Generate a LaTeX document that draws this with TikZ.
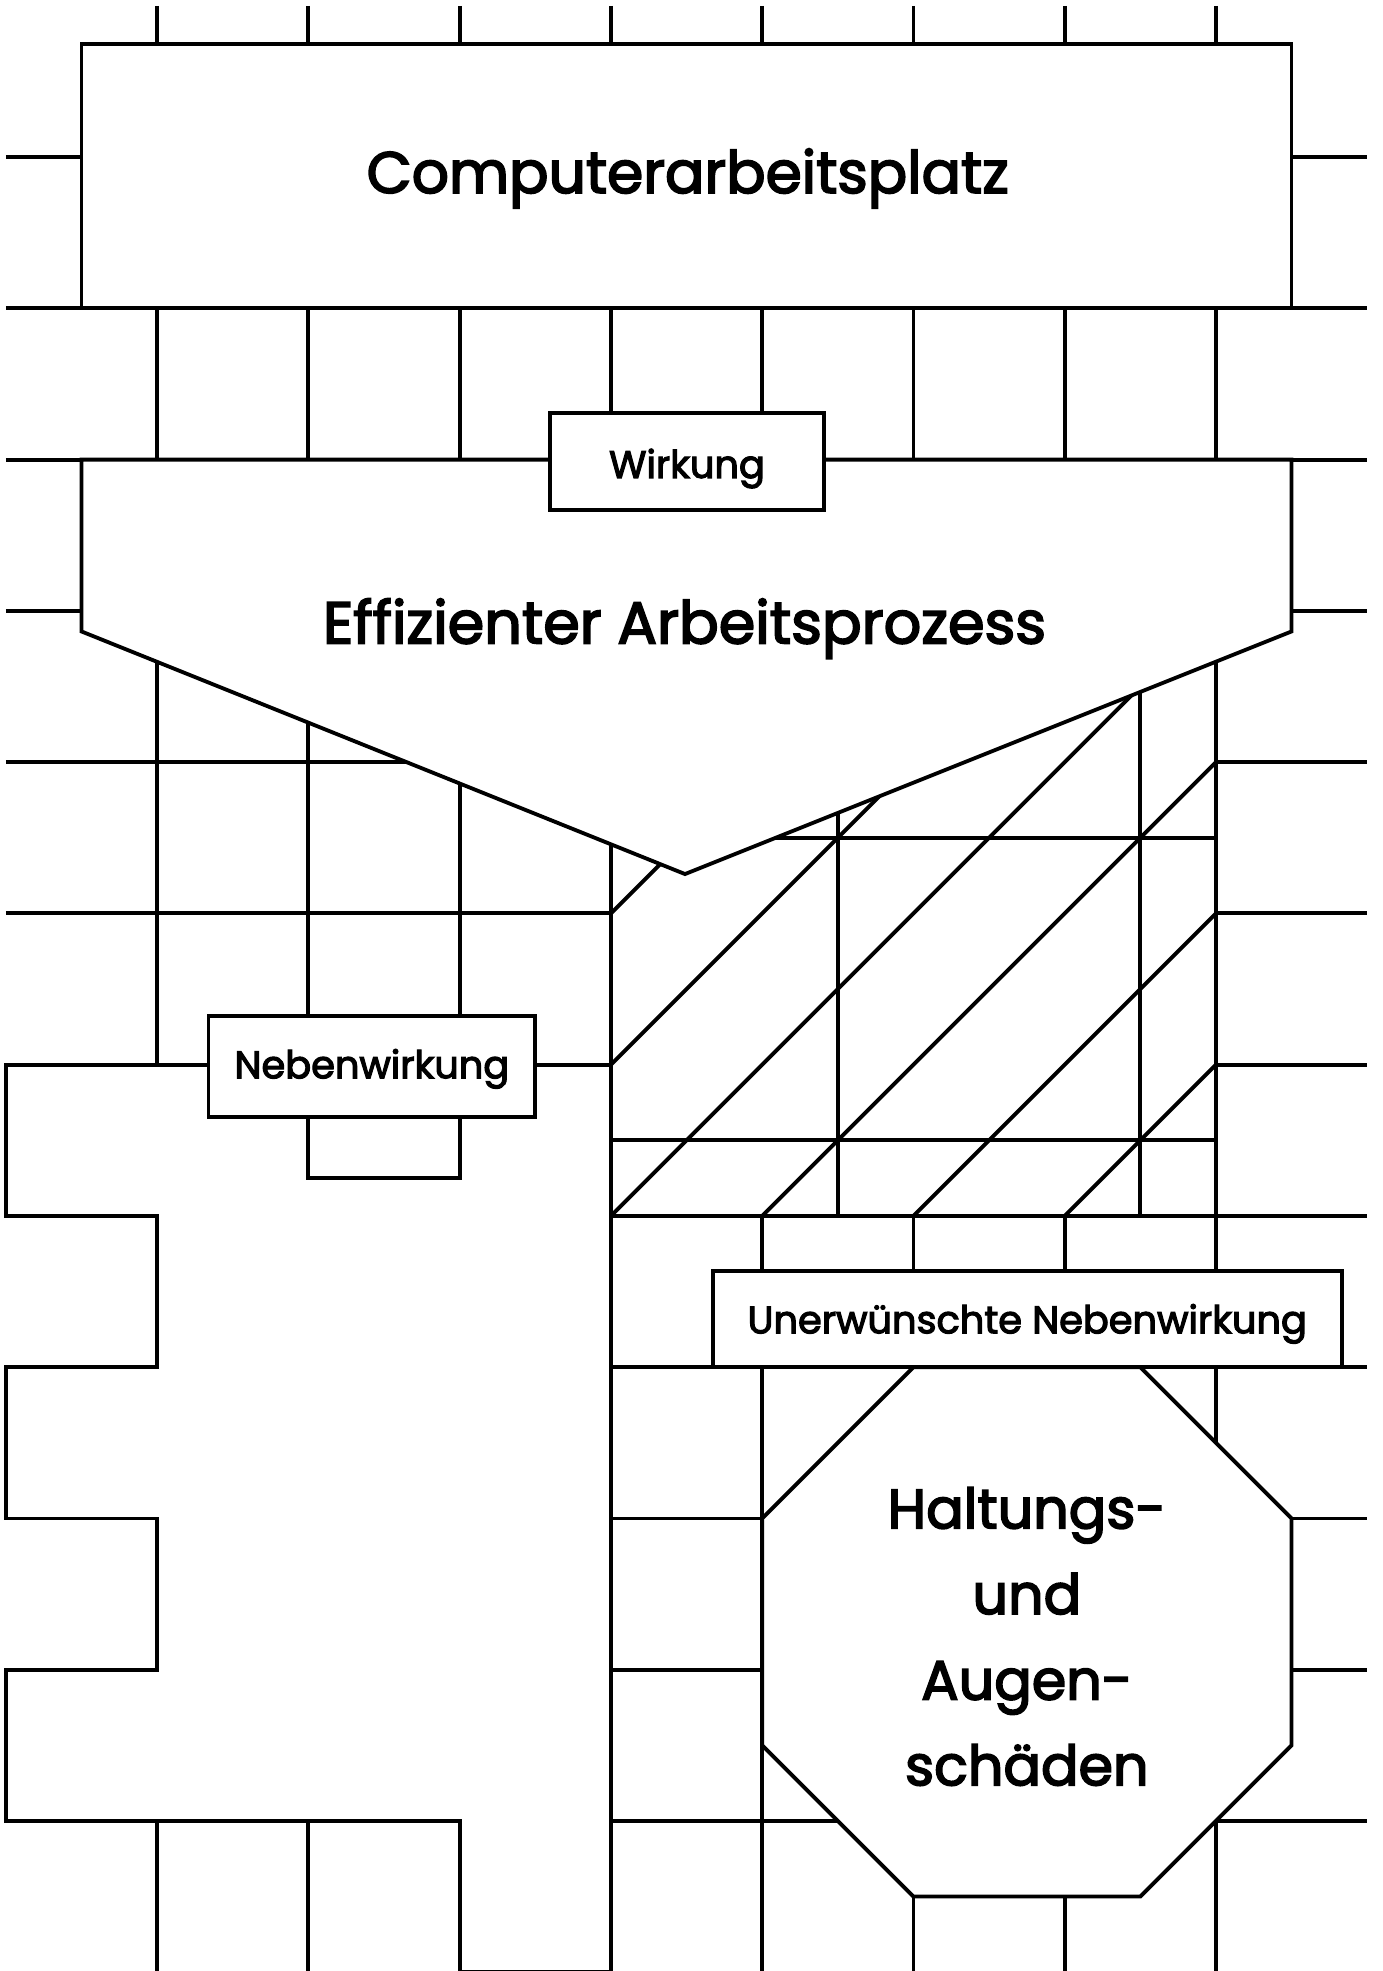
\documentclass[tikz,border=0pt]{standalone}
\usepackage{fontspec}
\setmainfont{Poppins}[FakeBold=3]
\newlength\fitlen
\newcommand\fitsize[3]{\settowidth\fitlen{\fontsize{10pt}{12pt}\selectfont #3}\ifdim\fitlen<1pt\global\fitlen=60pt\fi\pgfmathsetmacro#1{10*#2*28.45274/\fitlen}}
\newcommand\lblfont{\fontsize{\lsz pt}{\lsz pt}\selectfont}
\newcommand\octfont{\fontsize{\osz pt}{\osz pt}\selectfont}
\tikzset{
  shapeline/.style={draw=black, fill=white, line join=miter},
  labelbox/.style={draw=black, fill=white, inner sep=0pt, text depth=0pt, font=\lblfont},
  title/.style={anchor=base, inner sep=0pt},
}
\begin{document}
\fitsize\lsz{1.816}{Nebenwirkung}%
\fitsize\osz{1.84}{Haltungs-}%
\begin{tikzpicture}[x=1cm,y=-1cm,line width=0.72pt]
\useasboundingbox (-0.039,-0.039) rectangle (9.1048,12.9924);
\clip (-0.039,-0.039) rectangle (9.1048,12.9924);
% grid
\foreach \r in {1,...,12} \draw (0,\r) -- (9,\r);
\foreach \c in {1,...,8} \draw (\c,0) -- (\c,13.3);
% hatched field
\fill[white] (4,4) rectangle (8,8);
\begin{scope}
  \clip (4,4) rectangle (8,8);
  \foreach \s in {9,...,15} \draw (\s-8,8) -- (8,\s-8);
\end{scope}
\draw (5.5,4) -- (5.5,8) (7.5,4) -- (7.5,8) (4,5.5) -- (8,5.5) (4,7.5) -- (8,7.5);
\draw (4,4) rectangle (8,8);
% top box
\draw[shapeline] (0.5,0.25) rectangle (8.5,2);
\node[title] (t1) at (4.508,1.237) {\resizebox{4.245cm}{!}{Computerarbeitsplatz}};
% pentagon
\draw[shapeline] (0.5,3) -- (8.5,3) -- (8.5,4.136) -- (4.49,5.74) -- (0.5,4.136) -- cycle;
\node[title] (t2) at (4.487,4.215) {\resizebox{4.78cm}{!}{Effizienter Arbeitsprozess}};
\node[labelbox, minimum width=1.813cm, minimum height=0.64cm, text height=0.216cm] (wirkung) at (4.503,3.013) {Wirkung};
% cross shape
\draw[shapeline] (0,7) -- (2,7) -- (2,7.75) -- (3,7.75) -- (3,7) -- (4,7) -- (4,13) -- (3,13) -- (3,12) -- (0,12) -- (0,11) -- (1,11) -- (1,10) -- (0,10) -- (0,9) -- (1,9) -- (1,8) -- (0,8) -- cycle;
\node[labelbox, minimum width=2.16cm, minimum height=0.67cm, text height=0.154cm] (neben) at (2.42,7.013) {Nebenwirkung};
% octagon
\draw[shapeline] (6,9) -- (7.5,9) -- (8.5,10) -- (8.5,11.5) -- (7.5,12.5) -- (6,12.5) -- (5,11.5) -- (5,10) -- cycle;
\node[labelbox, minimum width=4.156cm, minimum height=0.638cm, text height=0.19cm] (unerw) at (6.753,8.681) {Unerwünschte Nebenwirkung};
\node[title, font=\octfont] (o1) at (6.75,10.066) {Haltungs-};
\node[title, font=\octfont] (o2) at (6.75,10.632) {und};
\node[title, font=\octfont] (o3) at (6.75,11.198) {Augen-};
\node[title, font=\octfont] (o4) at (6.75,11.764) {schäden};
\end{tikzpicture}
\end{document}
